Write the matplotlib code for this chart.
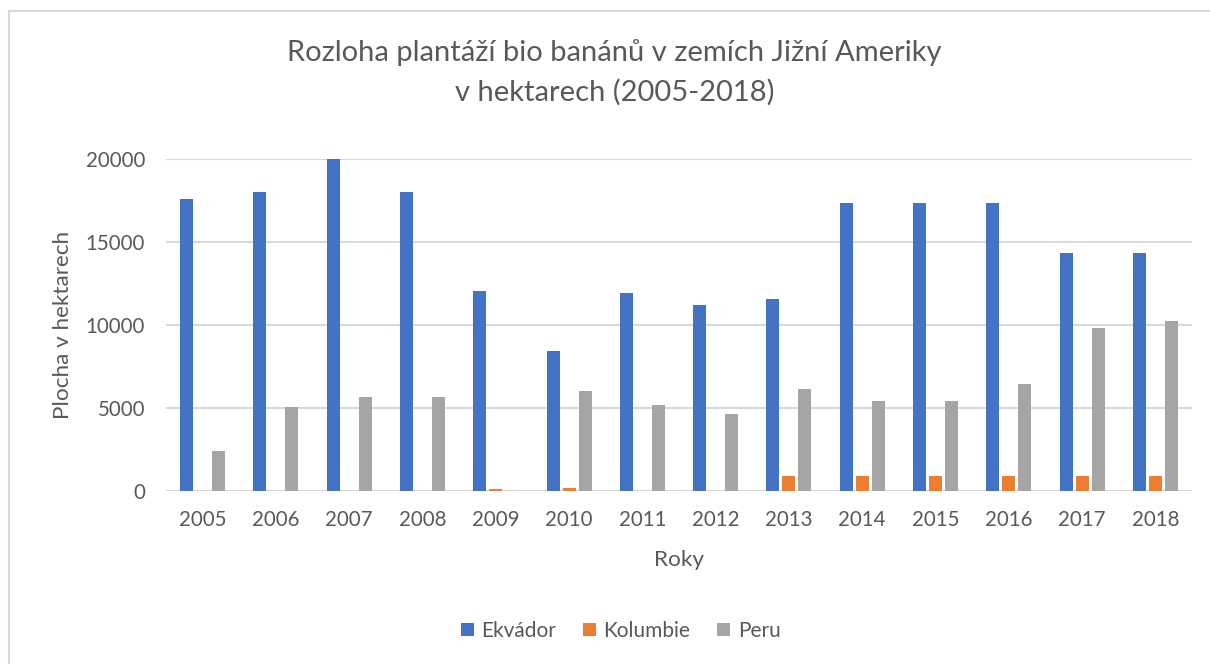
import numpy as np
import matplotlib
matplotlib.use("Agg")
import matplotlib.pyplot as plt
from matplotlib.lines import Line2D
from matplotlib.patches import Patch

years = ["2005", "2006", "2007", "2008", "2009", "2010", "2011",
         "2012", "2013", "2014", "2015", "2016", "2017", "2018"]
ekvador = [17560, 17980, 20000, 17980, 12050, 8420, 11910,
           11190, 11570, 17320, 17320, 17320, 14340, 14340]
kolumbie = [0, 0, 0, 0, 120, 160, 0,
            0, 880, 880, 880, 880, 880, 880]
peru = [2390, 5060, 5670, 5670, 0, 5990, 5140,
        4620, 6130, 5400, 5400, 6450, 9780, 10230]

series = [("Ekvádor", ekvador, "#4472c4"),
          ("Kolumbie", kolumbie, "#ed7d31"),
          ("Peru", peru, "#a5a5a5")]

plt.rcParams['font.family'] = ['Lato', 'DejaVu Sans']
text_col = "#595959"

fig = plt.figure(figsize=(12.1, 6.64), dpi=100)
ax = fig.add_axes([166 / 1210, 1 - 490.7 / 664, (1192 - 166) / 1210, (490.7 - 158.7) / 664])

x = np.arange(len(years))
step = 0.218
width = 0.177
for i, (name, vals, col) in enumerate(series):
    ax.bar(x + (i - 1) * step, vals, width=width, color=col, label=name, zorder=3)

ax.set_xlim(-0.5, len(years) - 0.5)
ax.set_ylim(0, 20000)
ax.set_yticks([0, 5000, 10000, 15000, 20000])
ax.set_xticks(x)
ax.set_xticklabels(years)
ax.tick_params(axis="both", length=0, labelsize=14.8, colors=text_col)
ax.tick_params(axis="y", pad=15)
ax.tick_params(axis="x", pad=14)
ax.grid(axis="y", color="#d9d9d9", linewidth=1.5, zorder=0)
ax.set_axisbelow(True)
for s in ax.spines.values():
    s.set_visible(False)

ax.set_ylabel("Plocha v hektarech", fontsize=16.2, color=text_col, labelpad=9)
ax.set_xlabel("Roky", fontsize=16.2, color=text_col, labelpad=14)

fig.text(0.508, 1 - 53 / 664, "Rozloha plantáží bio banánů v zemích Jižní Ameriky",
         ha="center", va="center", fontsize=21, color=text_col)
fig.text(0.508, 1 - 92 / 664, "v hektarech (2005-2018)",
         ha="center", va="center", fontsize=21, color=text_col)

handles = [Patch(facecolor=c, label=n) for n, _, c in series]
fig.legend(handles=handles, loc="center", bbox_to_anchor=(0.513, 1 - 631 / 664),
           ncol=3, frameon=False, fontsize=15, handlelength=0.62, handleheight=0.62,
           handletextpad=0.35, columnspacing=1.3, labelcolor=text_col)

# chart border (left and top edges visible)
fig.add_artist(Line2D([8.5 / 1210, 8.5 / 1210], [0, 1 - 11 / 664], transform=fig.transFigure,
                      color="#d9d9d9", linewidth=1.5))
fig.add_artist(Line2D([8.5 / 1210, 1], [1 - 11 / 664, 1 - 11 / 664], transform=fig.transFigure,
                      color="#d9d9d9", linewidth=1.5))

fig.savefig("out.png", dpi=100)
